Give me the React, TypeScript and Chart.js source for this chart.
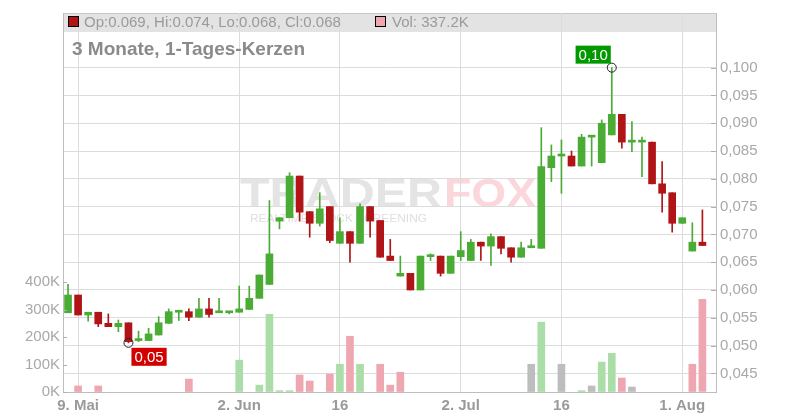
import React, { useEffect, useRef } from "react";
import { Chart, registerables } from "chart.js";

Chart.register(...registerables);

// ---- data (one candle per trading day, 8 May .. 5 Aug) ----
const opens = [
  0.0559, 0.0591, 0.0555, 0.0560, 0.0540, 0.0534, 0.0541, 0.0509, 0.0509, 0.0519,
  0.0540, 0.0560, 0.0561, 0.0551, 0.0566, 0.0559, 0.0559, 0.0560, 0.0565, 0.0585,
  0.0610, 0.0724, 0.0730, 0.0805, 0.0741, 0.0720, 0.0750, 0.0684, 0.0705, 0.0684,
  0.0750, 0.0725, 0.0661, 0.0625, 0.0630, 0.0600, 0.0660, 0.0661, 0.0630, 0.0660,
  0.0653, 0.0686, 0.0679, 0.0696, 0.0676, 0.0659, 0.0676, 0.0675, 0.0820, 0.0841,
  0.0841, 0.0823, 0.0875, 0.0829, 0.0879, 0.0916, 0.0866, 0.0866, 0.0866, 0.0791,
  0.0775, 0.0720, 0.0670, 0.0686,
];
const highs = [
  0.0610, 0.0591, 0.0560, 0.0560, 0.0557, 0.0546, 0.0541, 0.0526, 0.0531, 0.0552,
  0.0566, 0.0561, 0.0566, 0.0585, 0.0585, 0.0585, 0.0561, 0.0607, 0.0607, 0.0627,
  0.0761, 0.0730, 0.0811, 0.0805, 0.0741, 0.0775, 0.0750, 0.0730, 0.0705, 0.0755,
  0.0750, 0.0725, 0.0691, 0.0661, 0.0630, 0.0661, 0.0665, 0.0661, 0.0661, 0.0705,
  0.0691, 0.0686, 0.0701, 0.0696, 0.0676, 0.0686, 0.0691, 0.0892, 0.0861, 0.0870,
  0.0850, 0.0880, 0.0876, 0.0906, 0.1000, 0.0916, 0.0903, 0.0875, 0.0866, 0.0831,
  0.0775, 0.0730, 0.0721, 0.0744,
];
const lows = [
  0.0559, 0.0555, 0.0544, 0.0534, 0.0534, 0.0525, 0.0505, 0.0507, 0.0509, 0.0519,
  0.0540, 0.0545, 0.0545, 0.0551, 0.0551, 0.0559, 0.0557, 0.0560, 0.0565, 0.0585,
  0.0610, 0.0710, 0.0730, 0.0724, 0.0695, 0.0715, 0.0685, 0.0684, 0.0650, 0.0684,
  0.0695, 0.0659, 0.0653, 0.0625, 0.0600, 0.0600, 0.0653, 0.0625, 0.0630, 0.0653,
  0.0653, 0.0653, 0.0644, 0.0665, 0.0650, 0.0659, 0.0676, 0.0675, 0.0795, 0.0774,
  0.0823, 0.0823, 0.0823, 0.0829, 0.0879, 0.0855, 0.0849, 0.0804, 0.0791, 0.0740,
  0.0704, 0.0720, 0.0670, 0.0680,
];
const closes = [
  0.0591, 0.0555, 0.0560, 0.0539, 0.0534, 0.0540, 0.0507, 0.0511, 0.0521, 0.0541,
  0.0561, 0.0561, 0.0551, 0.0566, 0.0556, 0.0560, 0.0560, 0.0566, 0.0585, 0.0627,
  0.0665, 0.0730, 0.0805, 0.0740, 0.0720, 0.0746, 0.0689, 0.0705, 0.0684, 0.0750,
  0.0724, 0.0659, 0.0653, 0.0630, 0.0600, 0.0661, 0.0661, 0.0630, 0.0661, 0.0671,
  0.0686, 0.0679, 0.0696, 0.0675, 0.0659, 0.0676, 0.0676, 0.0822, 0.0841, 0.0841,
  0.0823, 0.0875, 0.0875, 0.0900, 0.0916, 0.0866, 0.0866, 0.0867, 0.0791, 0.0774,
  0.0720, 0.0730, 0.0686, 0.0680,
];
const volumes = [
  0, 22000, 0, 22000, 0, 0, 0, 0, 0, 0,
  0, 0, 47000, 0, 0, 0, 0, 116000, 0, 25000,
  283000, 5000, 5000, 62000, 40000, 0, 65000, 101000, 203000, 101000,
  0, 101000, 25000, 72000, 0, 0, 0, 0, 0, 0,
  0, 0, 0, 0, 0, 0, 101000, 254000, 0, 101000,
  0, 5000, 22000, 109000, 141000, 51000, 18000, 0, 0, 0,
  0, 0, 101000, 337200,
];
const xTickIndex = [1, 17, 27, 39, 49, 61];
const xTickLabels = ["9. Mai", "2. Jun", "16", "2. Jul", "16", "1. Aug"];
const priceTicks = [0.045, 0.05, 0.055, 0.06, 0.065, 0.07, 0.075, 0.08, 0.085, 0.09, 0.095, 0.1];
const volumeTicks = [0, 100000, 200000, 300000, 400000];
const chartTitle = "3 Monate, 1-Tages-Kerzen";

// ---- styles ----
const FONT = '"Liberation Sans", Arial, sans-serif';
const GREEN = "#4aac35";
const RED = "#b01417";
const VOL_UP = "#aadda7";
const VOL_DOWN = "#eea7b0";
const VOL_FLAT = "#bdbdbd";
const GRID = "#dcdcdc";
const AXIS = "#bdbdbd";

const fmt3 = (v: number) => v.toFixed(3);

const volColorAt = (i: number) => {
  if (i <= 0) return VOL_UP;
  if (closes[i] > closes[i - 1]) return VOL_UP;
  if (closes[i] < closes[i - 1]) return VOL_DOWN;
  return VOL_FLAT;
};
const candleColorAt = (i: number) => (closes[i] >= opens[i] ? GREEN : RED);

const overlayPlugin = {
  id: "overlay",
  beforeDraw(chart: any) {
    const ctx = chart.ctx as CanvasRenderingContext2D;
    const a = chart.chartArea;
    ctx.save();
    ctx.fillStyle = "#e3e3e3";
    ctx.fillRect(a.left, a.top, a.right - a.left, 19);
    ctx.strokeStyle = "#c8c8c8";
    ctx.lineWidth = 1;
    ctx.beginPath();
    ctx.moveTo(a.left, a.top + 0.5);
    ctx.lineTo(a.right, a.top + 0.5);
    ctx.stroke();

    const drawFit = (text: string, x: number, y: number, w: number, font: string, color: string) => {
      ctx.font = font;
      const m = ctx.measureText(text).width;
      ctx.save();
      ctx.translate(x, y);
      ctx.scale(w / m, 1);
      ctx.fillStyle = color;
      ctx.textBaseline = "alphabetic";
      ctx.textAlign = "left";
      ctx.fillText(text, 0, 0);
      ctx.restore();
    };
    drawFit("TRADER", 240, 207, 202, `bold 41px ${FONT}`, "#e4e4e4");
    drawFit("FOX", 444, 207, 92, `bold 41px ${FONT}`, "#fbd6da");
    drawFit("REALTIME STOCK SCREENING", 250, 222, 177, `11px ${FONT}`, "#dedede");
    ctx.restore();
  },
  afterDraw(chart: any) {
    const ctx = chart.ctx as CanvasRenderingContext2D;
    const a = chart.chartArea;
    const xs = chart.scales.x;
    const ys = chart.scales.y;
    const yv = chart.scales.yv;
    ctx.save();

    // inner tick marks
    ctx.strokeStyle = "#b0b0b0";
    ctx.lineWidth = 1;
    ctx.beginPath();
    priceTicks.forEach((v) => {
      const y = Math.round(ys.getPixelForValue(v)) + 0.5;
      ctx.moveTo(a.right - 5, y);
      ctx.lineTo(a.right, y);
    });
    volumeTicks.forEach((v) => {
      const y = Math.round(yv.getPixelForValue(v)) + 0.5;
      ctx.moveTo(a.left, y);
      ctx.lineTo(a.left + 4, y);
    });
    ctx.stroke();

    // title
    ctx.font = `bold 19px ${FONT}`;
    ctx.fillStyle = "#8a8a8a";
    ctx.textAlign = "left";
    ctx.textBaseline = "alphabetic";
    ctx.fillText(chartTitle, a.left + 9, 55);

    // legend
    const n = opens.length - 1;
    ctx.fillStyle = RED;
    ctx.fillRect(68, 16, 11, 11);
    ctx.strokeStyle = "#000";
    ctx.lineWidth = 1;
    ctx.strokeRect(68.5, 16.5, 10, 10);
    ctx.fillStyle = VOL_DOWN;
    ctx.fillRect(375, 16, 11, 11);
    ctx.strokeRect(375.5, 16.5, 10, 10);
    ctx.font = `15px ${FONT}`;
    ctx.fillStyle = "#9a9a9a";
    ctx.fillText(
      `Op:${fmt3(opens[n])}, Hi:${fmt3(highs[n])}, Lo:${fmt3(lows[n])}, Cl:${fmt3(closes[n])}`,
      84,
      26.5
    );
    ctx.fillText(`Vol: ${(volumes[n] / 1000).toFixed(1)}K`, 392, 26.5);

    // min / max markers
    let iMin = 0;
    let iMax = 0;
    lows.forEach((v, i) => { if (v < lows[iMin]) iMin = i; });
    highs.forEach((v, i) => { if (v > highs[iMax]) iMax = i; });

    const drawMarker = (i: number, v: number, below: boolean, color: string) => {
      const cx = xs.getPixelForValue(i);
      const cy = ys.getPixelForValue(v);
      ctx.beginPath();
      ctx.arc(cx, cy, 4.5, 0, Math.PI * 2);
      ctx.strokeStyle = "#222";
      ctx.lineWidth = 1;
      ctx.stroke();
      const label = v.toFixed(2).replace(".", ",");
      ctx.font = `15px ${FONT}`;
      const w = ctx.measureText(label).width + 6;
      const h = 18;
      const bx = below ? cx + 3 : cx - 1 - w;
      const by = below ? cy + 5 : cy - 4 - h;
      ctx.fillStyle = color;
      ctx.fillRect(bx, by, w, h);
      ctx.fillStyle = "#ffffff";
      ctx.textAlign = "center";
      ctx.textBaseline = "middle";
      ctx.fillText(label, bx + w / 2, by + h / 2 + 1);
      ctx.textAlign = "left";
      ctx.textBaseline = "alphabetic";
    };
    drawMarker(iMin, lows[iMin], true, "#d30000");
    drawMarker(iMax, highs[iMax], false, "#009a00");
    ctx.restore();
  },
};

export default function App() {
  const ref = useRef<HTMLCanvasElement | null>(null);

  useEffect(() => {
    if (!ref.current) return;
    const idx = opens.map((_, i) => i);

    const chart = new Chart(ref.current, {
      type: "bar",
      data: {
        datasets: [
          {
            type: "bar",
            label: "Volumen",
            data: idx.filter((i) => volumes[i] > 0).map((i) => ({ x: i, y: volumes[i] })) as any,
            xAxisID: "x",
            yAxisID: "yv",
            backgroundColor: (c: any) => volColorAt(c.raw ? c.raw.x : -1),
            borderWidth: 0,
            barThickness: 7,
            grouped: false,
            order: 0,
          } as any,
          {
            type: "bar",
            label: "Docht",
            data: idx.map((i) => ({ x: i, y: [lows[i], highs[i]] })) as any,
            xAxisID: "x",
            yAxisID: "y",
            backgroundColor: (c: any) => candleColorAt(c.raw ? c.raw.x : 0),
            borderWidth: 0,
            barThickness: 1,
            grouped: false,
            order: 2,
          } as any,
          {
            type: "bar",
            label: "Kerze",
            data: idx.map((i) => ({ x: i, y: [opens[i], closes[i]] })) as any,
            xAxisID: "x",
            yAxisID: "y",
            backgroundColor: (c: any) => candleColorAt(c.raw ? c.raw.x : 0),
            borderWidth: 0,
            barThickness: 7,
            minBarLength: 2,
            grouped: false,
            order: 1,
          } as any,
        ],
      },
      options: {
        animation: false,
        responsive: true,
        maintainAspectRatio: false,
        events: [],
        layout: { padding: { top: 11, left: 0, right: 0, bottom: 0 } },
        plugins: {
          legend: { display: false },
          tooltip: { enabled: false },
          title: { display: false },
        },
        scales: {
          x: {
            type: "linear",
            position: "bottom",
            offset: false,
            min: -0.5,
            max: 64.35,
            afterBuildTicks: (s: any) => {
              s.ticks = xTickIndex.map((v) => ({ value: v }));
            },
            ticks: {
              autoSkip: false,
              maxRotation: 0,
              padding: 5,
              color: "#9a9a9a",
              font: { family: FONT, size: 15, weight: "bold" },
              callback: (v: any) => {
                const k = xTickIndex.indexOf(Number(v));
                return k >= 0 ? xTickLabels[k] : "";
              },
            },
            grid: { color: GRID, drawTicks: false, offset: false },
            border: { color: AXIS },
            afterFit: (s: any) => {
              s.height = 28;
            },
          } as any,
          y: {
            type: "linear",
            position: "right",
            min: 0.04165,
            max: 0.10983,
            afterBuildTicks: (s: any) => {
              s.ticks = priceTicks.map((v) => ({ value: v }));
            },
            ticks: {
              padding: 4,
              color: "#a8a8a8",
              font: { family: FONT, size: 15 },
              callback: (v: any) => Number(v).toFixed(3).replace(".", ","),
            },
            grid: { color: GRID, drawTicks: false },
            border: { color: AXIS },
            afterFit: (s: any) => {
              s.width = 84;
            },
          } as any,
          yv: {
            type: "linear",
            position: "left",
            min: 0,
            max: 1380000,
            afterBuildTicks: (s: any) => {
              s.ticks = volumeTicks.map((v) => ({ value: v }));
            },
            ticks: {
              padding: 3,
              color: "#a8a8a8",
              font: { family: FONT, size: 15 },
              callback: (v: any) => `${Math.round(Number(v) / 1000)}K`,
            },
            grid: { drawOnChartArea: false, drawTicks: false },
            border: { color: AXIS },
            afterFit: (s: any) => {
              s.width = 63;
            },
          } as any,
        },
      },
      plugins: [overlayPlugin],
    });
    return () => chart.destroy();
  }, []);

  return (
    <div style={{ position: "absolute", left: 0, top: 0, width: 800, height: 420, background: "#fff" }}>
      <canvas ref={ref} />
    </div>
  );
}
